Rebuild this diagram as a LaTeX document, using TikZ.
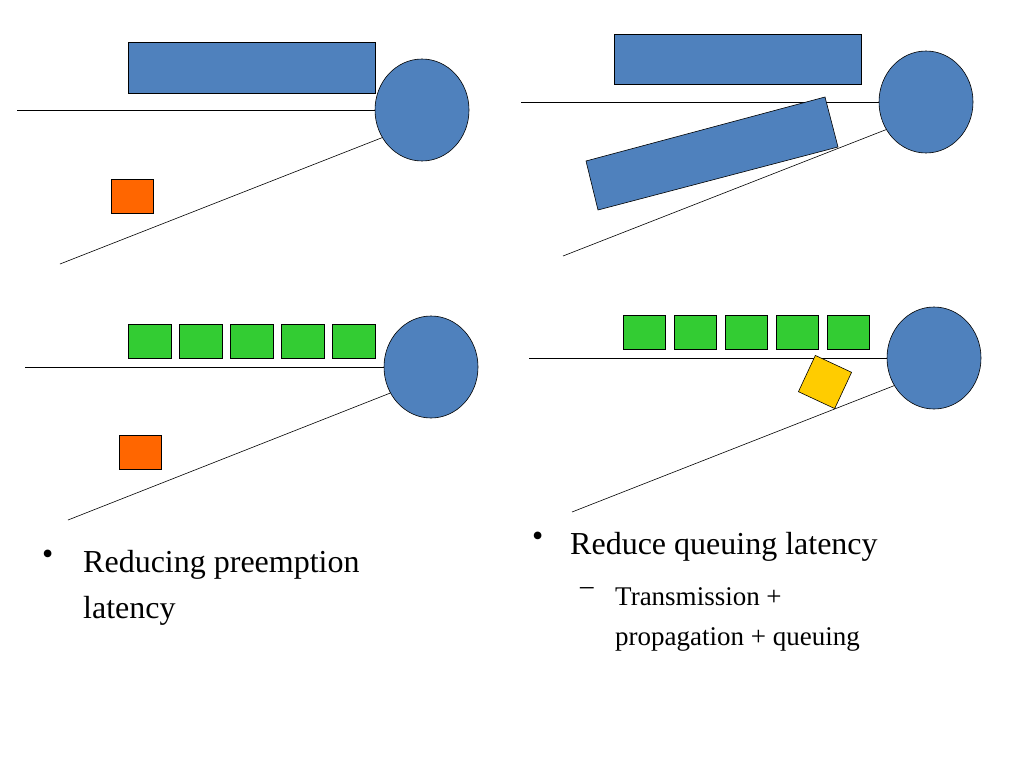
\documentclass[tikz,border=0pt]{standalone}
\usepackage{fontspec}
\setmainfont{Liberation Serif}
\usetikzlibrary{shapes.geometric}
\begin{document}
\begin{tikzpicture}[x=1pt,y=-1pt,
  blu/.style={draw=black,fill={rgb,255:red,79;green,129;blue,189},line width=0.6pt},
  org/.style={draw=black,fill={rgb,255:red,255;green,102;blue,0},line width=0.6pt},
  grn/.style={draw=black,fill={rgb,255:red,51;green,204;blue,51},line width=0.6pt},
  yel/.style={draw=black,fill={rgb,255:red,255;green,204;blue,0},line width=0.6pt},
  wire/.style={draw=black,line width=0.6pt},
  disc/.style={blu,ellipse,minimum width=94pt,minimum height=102pt,inner sep=0pt},
  big/.style={font=\fontsize{32}{46}\selectfont,align=left,anchor=north west,inner sep=0pt},
  small/.style={font=\fontsize{27}{40}\selectfont,align=left,anchor=north west,inner sep=0pt}]
\useasboundingbox (0,0) rectangle (1024,768);
% top-left
\draw[wire] (17,110) -- (422,110); \draw[wire] (60,264) -- (422,122);
\draw[blu] (128,42) rectangle (375,93);
\node[disc] (c1) at (422,110) {};
\draw[org] (111,179) rectangle (153,213);
% top-right
\draw[wire] (521,102) -- (926,102); \draw[wire] (563,256) -- (926,114);
\draw[blu] (614,34) rectangle (861,84);
\draw[blu] (586,161) -- (825,97) -- (838,147) -- (598,210) -- cycle;
\node[disc] (c2) at (926,102) {};
% bottom-left
\draw[wire] (25,367) -- (431,367); \draw[wire] (68,520) -- (431,377);
\foreach \x in {128,179,230,281,332} \draw[grn] (\x,324) rectangle (\x+43,358);
\node[disc] (c3) at (431,367) {};
\draw[org] (119,435) rectangle (161,469);
% bottom-right
\draw[wire] (529,358) -- (934,358); \draw[wire] (572,512) -- (934,370);
\foreach \x in {623,674,725,776,827} \draw[grn] (\x,315) rectangle (\x+42,349);
\draw[yel,rotate around={-25:(825,382)}] (805,362) rectangle (845,402);
\node[disc] (c4) at (934,358) {};
% text
\node[big] (b1) at (42,550) {•};
\node[big] (t1) at (83,550) {Reducing preemption\\latency};
\node[big] (b2) at (532,532) {•};
\node[big] (t2) at (570,532) {Reduce queuing latency};
\node[small] (d1) at (580,587) {–};
\node[small] (t3) at (615,587) {Transmission +\\propagation + queuing};
\end{tikzpicture}
\end{document}
